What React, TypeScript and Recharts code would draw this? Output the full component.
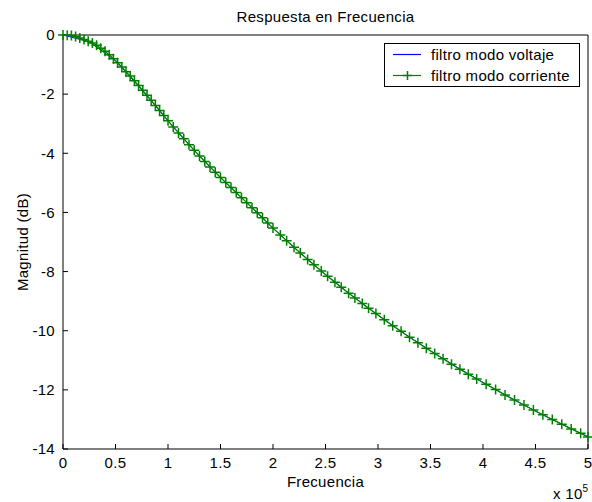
import React from 'react';
import { LineChart, Line, XAxis, YAxis, Legend, Label } from 'recharts';

// frecuencia en unidades de 1e5 Hz, magnitud en dB
const freqCorriente = [
  0, 0.04, 0.08, 0.12, 0.16, 0.2, 0.24, 0.28, 0.32, 0.36, 0.4, 0.44, 0.48, 0.52, 0.56, 0.6, 0.64, 0.68, 0.72, 0.76,
  0.8, 0.84, 0.88, 0.92, 0.96, 1.0, 1.05, 1.1, 1.15, 1.2, 1.25, 1.3, 1.35, 1.4, 1.45, 1.5, 1.55, 1.6, 1.65, 1.7,
  1.75, 1.8, 1.85, 1.9, 1.95, 2.0, 2.07, 2.13, 2.2, 2.26, 2.33, 2.39, 2.46, 2.52, 2.59, 2.65, 2.72, 2.78, 2.85, 2.91,
  2.98, 3.06, 3.14, 3.22, 3.3, 3.38, 3.46, 3.54, 3.62, 3.7, 3.78, 3.86, 3.94, 4.03, 4.12, 4.21, 4.3, 4.39, 4.48, 4.57,
  4.66, 4.75, 4.84, 4.93, 5.0,
];
const magCorriente = [
  0, -0.01, -0.02, -0.05, -0.1, -0.15, -0.21, -0.27, -0.35, -0.45, -0.55, -0.67, -0.8, -0.94, -1.08, -1.24, -1.39, -1.55, -1.71, -1.87,
  -2.04, -2.21, -2.38, -2.55, -2.72, -2.9, -3.11, -3.31, -3.51, -3.71, -3.9, -4.09, -4.28, -4.46, -4.64, -4.82, -4.99, -5.16, -5.33, -5.5,
  -5.67, -5.84, -6.01, -6.18, -6.36, -6.53, -6.76, -6.96, -7.18, -7.37, -7.59, -7.77, -7.98, -8.16, -8.36, -8.53, -8.73, -8.89, -9.08, -9.24,
  -9.42, -9.63, -9.83, -10.02, -10.22, -10.41, -10.59, -10.77, -10.95, -11.13, -11.3, -11.47, -11.63, -11.81, -11.99, -12.17, -12.34, -12.51, -12.68, -12.84,
  -13.0, -13.16, -13.32, -13.47, -13.59,
];
const freqVoltaje = [0, 0.25, 0.5, 0.75, 1, 1.25, 1.5, 1.75, 2, 2.25, 2.5, 2.75, 3, 3.25, 3.5, 3.75, 4, 4.25, 4.5, 4.75, 5];
const magVoltaje = [
  0, -0.23, -0.87, -1.85, -2.9, -3.9, -4.82, -5.67, -6.53, -7.34, -8.1, -8.81, -9.47, -10.1, -10.68, -11.23, -11.75,
  -12.25, -12.72, -13.16, -13.59,
];
const freqTicks = [0, 0.5, 1, 1.5, 2, 2.5, 3, 3.5, 4, 4.5, 5];
const magTicks = [-14, -12, -10, -8, -6, -4, -2, 0];
const seriesNames = ['filtro modo voltaje', 'filtro modo corriente'];
const seriesColors = ['#0000ff', '#008000'];

const corriente = freqCorriente.map((f, i) => ({ f, mag: magCorriente[i] }));
const voltaje = freqVoltaje.map((f, i) => ({ f, mag: magVoltaje[i] }));

const FONT = '"Liberation Sans", Arial, sans-serif';
const tickStyle = { fill: '#000', fontSize: 15, fontFamily: FONT, letterSpacing: 0.3 };
const textProps = { fill: '#000', fontSize: 15, fontFamily: FONT, letterSpacing: 0.3 };

const PlusDot = (props: any) => {
  const { cx, cy, index } = props;
  if (cx == null || cy == null) return null;
  return (
    <path
      key={`plus-${index}`}
      d={`M${cx - 5},${cy}H${cx + 5}M${cx},${cy - 5}V${cy + 5}`}
      stroke={seriesColors[1]}
      strokeWidth={1.5}
      fill="none"
    />
  );
};

const renderLegend = () => (
  <div
    style={{
      boxSizing: 'border-box',
      width: 196,
      height: 44,
      border: '1px solid #000',
      background: '#fff',
      fontFamily: FONT,
      fontSize: 15,
      letterSpacing: 0.3,
      color: '#000',
    }}
  >
    {seriesNames.map((name, i) => (
      <div key={name} style={{ display: 'flex', alignItems: 'center', height: 21 }}>
        <svg width={46} height={21}>
          <line x1={8} x2={36} y1={10.5} y2={10.5} stroke={seriesColors[i]} strokeWidth={1.2} />
          {i === 1 && <path d="M22.5,6V15M18,10.5H27" stroke={seriesColors[i]} strokeWidth={1.5} />}
        </svg>
        <span style={{ lineHeight: '21px' }}>{name}</span>
      </div>
    ))}
  </div>
);

export default function App() {
  return (
    <div style={{ position: 'absolute', left: 0, top: 0, width: 592, height: 502, background: '#fff' }}>
      <LineChart width={592} height={502} margin={{ top: 34, right: 3, bottom: 52, left: 62 }}>
        <XAxis
          dataKey="f"
          type="number"
          domain={[0, 5]}
          ticks={freqTicks}
          interval={0}
          height={1}
          tickSize={-5}
          tickMargin={13}
          axisLine={{ stroke: '#000' }}
          tickLine={{ stroke: '#000' }}
          tick={tickStyle}
        >
          <Label
            content={(p: any) => (
              <text x={p.viewBox.x + p.viewBox.width / 2} y={p.viewBox.y + 38} textAnchor="middle" {...textProps}>
                Frecuencia
              </text>
            )}
          />
          <Label
            content={(p: any) => (
              <text x={p.viewBox.x + p.viewBox.width - 35} y={p.viewBox.y + 50} {...textProps}>
                x 10
                <tspan dy={-7} fontSize={10}>
                  5
                </tspan>
              </text>
            )}
          />
        </XAxis>
        <XAxis
          xAxisId="top"
          orientation="top"
          dataKey="f"
          type="number"
          domain={[0, 5]}
          ticks={freqTicks}
          interval={0}
          height={1}
          tickSize={-5}
          axisLine={{ stroke: '#000' }}
          tickLine={{ stroke: '#000' }}
          tick={false}
        >
          <Label
            content={(p: any) => (
              <text x={p.viewBox.x + p.viewBox.width / 2} y={p.viewBox.y - 12} textAnchor="middle" {...textProps}>
                Respuesta en Frecuencia
              </text>
            )}
          />
        </XAxis>
        <YAxis
          type="number"
          domain={[-14, 0]}
          ticks={magTicks}
          interval={0}
          width={1}
          tickSize={-5}
          tickMargin={13}
          axisLine={{ stroke: '#000' }}
          tickLine={{ stroke: '#000' }}
          tick={tickStyle}
        >
          <Label
            content={(p: any) => {
              const x = p.viewBox.x - 40;
              const y = p.viewBox.y + p.viewBox.height / 2;
              return (
                <text x={x} y={y} textAnchor="middle" dominantBaseline="central" transform={`rotate(-90, ${x}, ${y})`} {...textProps}>
                  Magnitud (dB)
                </text>
              );
            }}
          />
        </YAxis>
        <YAxis
          yAxisId="right"
          orientation="right"
          type="number"
          domain={[-14, 0]}
          ticks={magTicks}
          interval={0}
          width={1}
          tickSize={-5}
          axisLine={{ stroke: '#000' }}
          tickLine={{ stroke: '#000' }}
          tick={false}
        />
        <Legend
          layout="horizontal"
          verticalAlign="middle"
          align="center"
          content={renderLegend}
          wrapperStyle={{ left: 384, top: 43, width: 196, height: 44 }}
        />
        <Line
          data={voltaje}
          dataKey="mag"
          name={seriesNames[0]}
          stroke={seriesColors[0]}
          strokeWidth={1}
          dot={false}
          isAnimationActive={false}
        />
        <Line
          data={corriente}
          dataKey="mag"
          name={seriesNames[1]}
          stroke={seriesColors[1]}
          strokeWidth={1.2}
          dot={PlusDot}
          isAnimationActive={false}
        />
      </LineChart>
    </div>
  );
}
